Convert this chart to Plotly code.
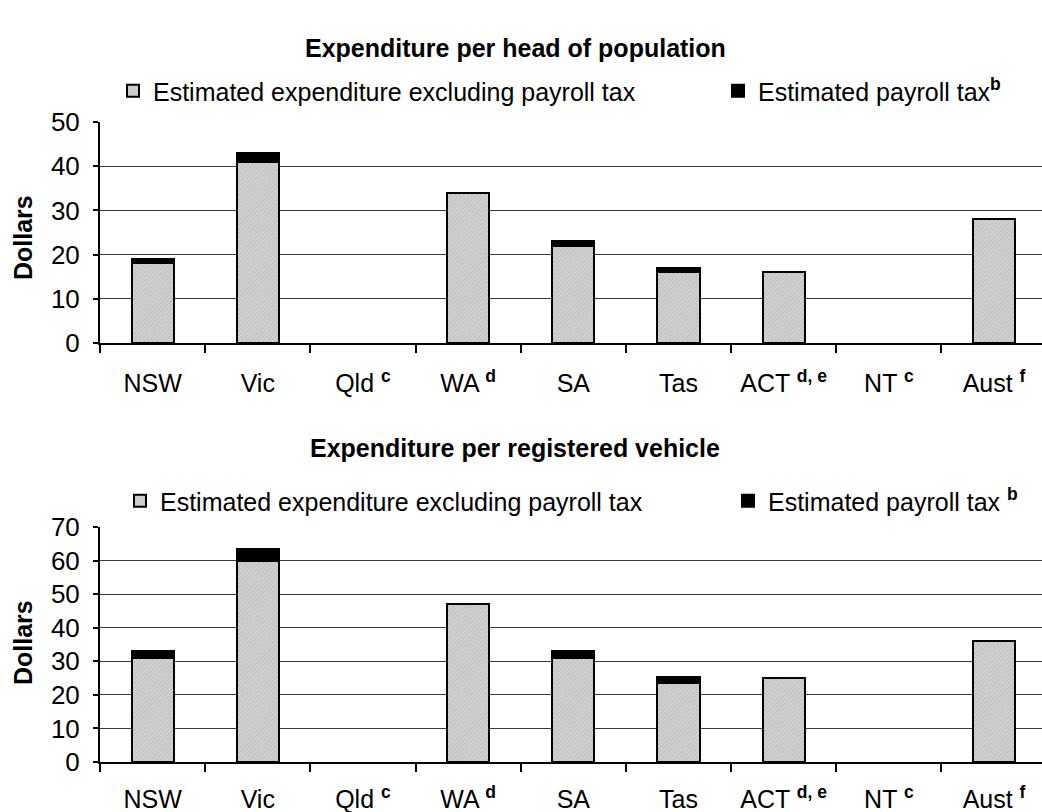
import plotly.graph_objects as go

# Jurisdictions (footnote letters shown as bold superscripts)
states = ["NSW", "Vic", "Qld", "WA", "SA", "Tas", "ACT", "NT", "Aust"]
state_labels = ["NSW", "Vic", "Qld <sup><b>c</b></sup>", "WA <sup><b>d</b></sup>", "SA", "Tas",
                "ACT <sup><b>d, e</b></sup>", "NT <sup><b>c</b></sup>", "Aust <sup><b>f</b></sup>"]

# Expenditure per head of population ($)
head_excl = [18, 41, None, 34, 22, 16, 16, None, 28]
head_tax = [1, 2, None, None, 1, 1, None, None, None]

# Expenditure per registered vehicle ($)
veh_excl = [31, 60, None, 47, 31, 23.6, 25, None, 36]
veh_tax = [2, 3.5, None, None, 2, 1.6, None, None, None]

EXCL_NAME = "Estimated expenditure excluding payroll tax"
TAX_NAME_TOP = "Estimated payroll tax<sup><b>b</b></sup>"
TAX_NAME_BOT = "Estimated payroll tax <sup><b>b</b></sup>"

FONT = "Liberation Sans, Arial, sans-serif"
TXT = 25
W, H = 1042, 812
ML = 100
PW = W - ML


def px_x(px):
    return (px - ML) / PW


def px_y(px):
    return (H - px) / H


gray_marker = dict(
    color="#c8c8c8",
    line=dict(color="black", width=2),
    pattern=dict(shape="/", fgcolor="#a0a0a0", bgcolor="#d2d2d2", size=3, solidity=0.3),
)
black_marker = dict(color="black", line=dict(color="black", width=2))

fig = go.Figure()

fig.add_trace(go.Bar(x=states, y=head_excl, name=EXCL_NAME, marker=gray_marker,
                     xaxis="x", yaxis="y", legend="legend", width=0.4))
fig.add_trace(go.Bar(x=states, y=head_tax, name=TAX_NAME_TOP, marker=black_marker,
                     xaxis="x", yaxis="y", legend="legend2", width=0.4))
fig.add_trace(go.Bar(x=states, y=veh_excl, name=EXCL_NAME, marker=gray_marker,
                     xaxis="x2", yaxis="y2", legend="legend3", width=0.4))
fig.add_trace(go.Bar(x=states, y=veh_tax, name=TAX_NAME_BOT, marker=black_marker,
                     xaxis="x2", yaxis="y2", legend="legend4", width=0.4))

xcommon = dict(
    type="category", categoryorder="array", categoryarray=states,
    tickmode="array", tickvals=states, ticktext=state_labels,
    range=[-0.5, 8.456], showline=True, linecolor="black", linewidth=2,
    ticks="outside", tickson="boundaries", ticklen=8, tickwidth=2, tickcolor="black",
    showgrid=False, tickfont=dict(size=TXT, color="black", family=FONT),
    tickangle=0, automargin=False, fixedrange=True,
)
ycommon = dict(
    showline=True, linecolor="black", linewidth=2,
    ticks="outside", ticklen=5, tickwidth=2, tickcolor="black",
    showgrid=True, gridcolor="#3a3a3a", gridwidth=1,
    zeroline=False, tickfont=dict(size=TXT + 1, color="black", family=FONT),
    ticklabelstandoff=8, automargin=False, fixedrange=True,
)


def legend_at(x_px, y_px):
    return dict(orientation="h", x=px_x(x_px), y=px_y(y_px), xanchor="left", yanchor="middle",
                font=dict(size=TXT, family=FONT, color="black"), bgcolor="rgba(0,0,0,0)",
                itemclick=False, itemdoubleclick=False, borderwidth=0)


fig.update_layout(
    width=W, height=H,
    margin=dict(l=ML, r=0, t=0, b=0),
    paper_bgcolor="white", plot_bgcolor="white",
    font=dict(family=FONT, color="black", size=TXT),
    barmode="stack",
    showlegend=True,
    xaxis=dict(xcommon, anchor="y", ticklabelstandoff=17),
    yaxis=dict(ycommon, anchor="x", domain=[px_y(343), px_y(122)], range=[0, 50], dtick=10),
    xaxis2=dict(xcommon, anchor="y2", ticklabelstandoff=14),
    yaxis2=dict(ycommon, anchor="x2", domain=[px_y(762), px_y(527)], range=[0, 70], dtick=10),
    legend=legend_at(113, 91),
    legend2=legend_at(718, 91),
    legend3=legend_at(120, 501),
    legend4=legend_at(728, 501),
    annotations=[
        dict(text="<b>Expenditure per head of population</b>", xref="paper", yref="paper",
             x=px_x(515), y=px_y(32), showarrow=False, font=dict(size=TXT)),
        dict(text="<b>Expenditure per registered vehicle</b>", xref="paper", yref="paper",
             x=px_x(515), y=px_y(448), showarrow=False, font=dict(size=TXT)),
        dict(text="<b>Dollars</b>", xref="paper", yref="paper", textangle=-90,
             x=px_x(23), y=px_y(238), xanchor="center", yanchor="middle",
             showarrow=False, font=dict(size=TXT)),
        dict(text="<b>Dollars</b>", xref="paper", yref="paper", textangle=-90,
             x=px_x(23), y=px_y(643), xanchor="center", yanchor="middle",
             showarrow=False, font=dict(size=TXT)),
    ],
)

fig.write_html("out.html")
